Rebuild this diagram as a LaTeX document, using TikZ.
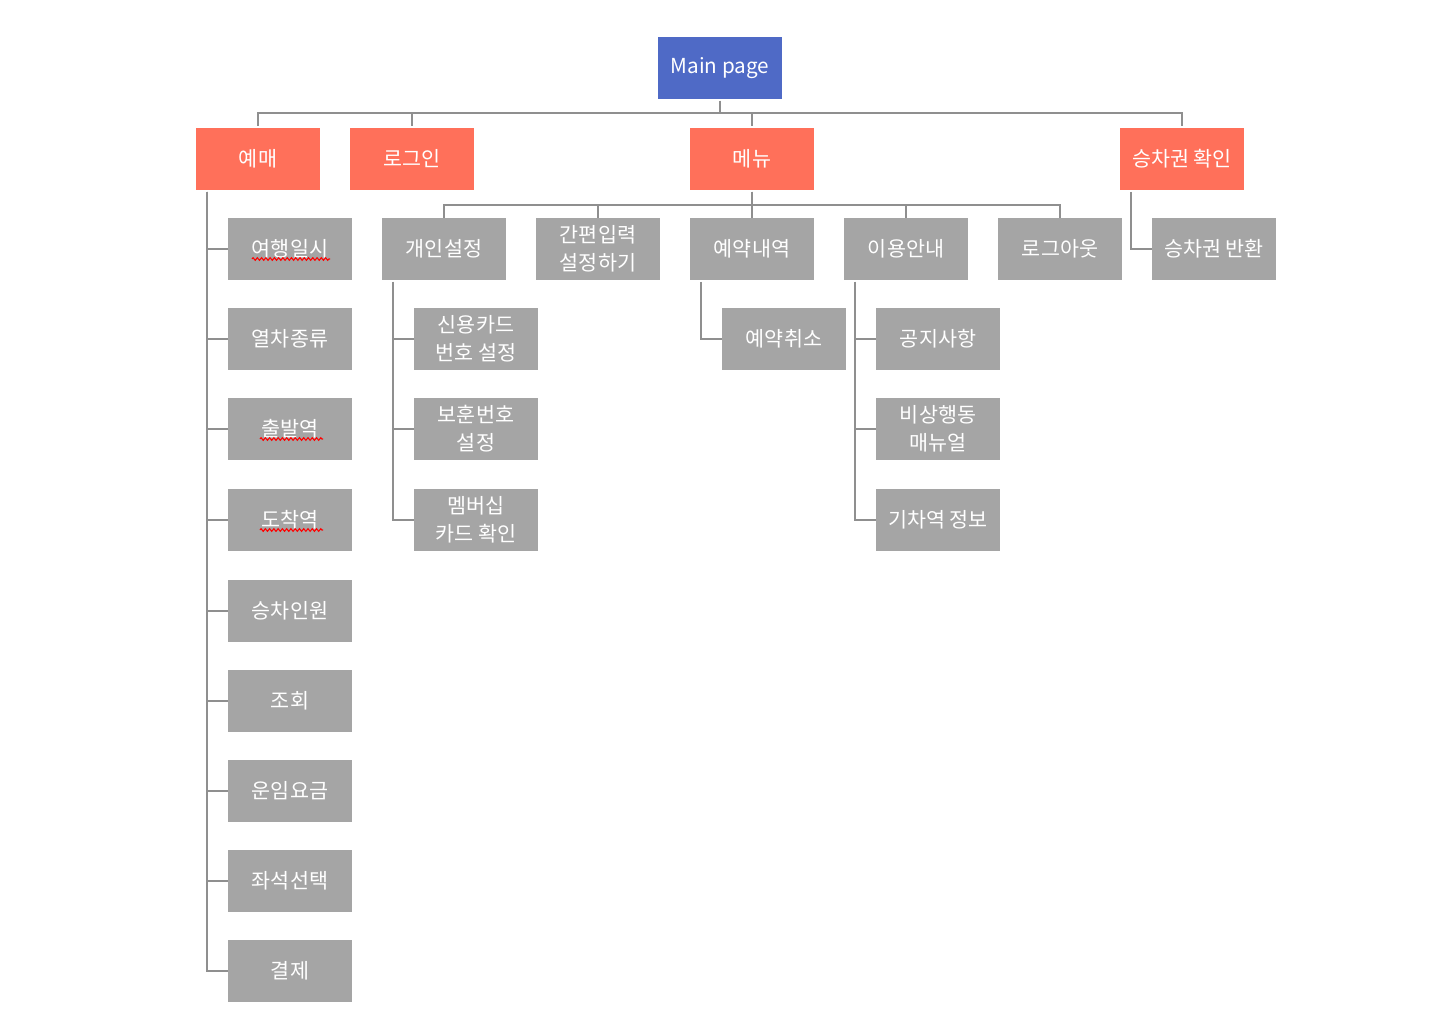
\documentclass[tikz,border=0pt]{standalone}
\usepackage{fontspec}
\newfontfamily\kr{Noto Sans CJK KR}
\usetikzlibrary{calc,decorations.pathmorphing}
\definecolor{mainblue}{HTML}{4F6AC6}
\definecolor{topred}{HTML}{FF705A}
\definecolor{boxgray}{HTML}{A5A5A5}
\definecolor{linegray}{HTML}{8F8F8F}
\tikzset{
  box/.style={minimum width=93pt, minimum height=46.5pt, inner sep=0pt, text=white,
    font=\kr\fontsize{15.5}{21}\selectfont, align=center},
  bluebox/.style={box, fill=mainblue},
  redbox/.style={box, fill=topred},
  graybox/.style={box, fill=boxgray},
  conn/.style={draw=linegray, line width=1.3pt, shorten <=1.2pt},
  spell/.style={draw=red, line width=0.8pt, decorate, decoration={zigzag, segment length=3.2pt, amplitude=1pt}}
}
\begin{document}
\begin{tikzpicture}[x=0.75pt,y=-0.75pt]
\useasboundingbox (0,0) rectangle (1430,1028);
% top
\node[bluebox] (main) at (720,68) {Main page};
\node[redbox] (yemae) at (258,159) {예매};
\node[redbox] (login) at (412,159) {로그인};
\node[redbox] (menu) at (752,159) {메뉴};
\node[redbox] (ticket) at (1182,159) {승차권 확인};
% menu children
\node[graybox] (gaein) at (444,249) {개인설정};
\node[graybox] (ganpyeon) at (598,249) {간편입력\\설정하기};
\node[graybox] (yeyak) at (752,249) {예약내역};
\node[graybox] (iyong) at (906,249) {이용안내};
\node[graybox] (logout) at (1060,249) {로그아웃};
\node[graybox] (banhwan) at (1214,249) {승차권 반환};
% yemae children
\node[graybox] (y1) at (290,249) {여행일시};
\node[graybox] (y2) at (290,339) {열차종류};
\node[graybox] (y3) at (290,429) {출발역};
\node[graybox] (y4) at (290,520) {도착역};
\node[graybox] (y5) at (290,611) {승차인원};
\node[graybox] (y6) at (290,701) {조회};
\node[graybox] (y7) at (290,791) {운임요금};
\node[graybox] (y8) at (290,881) {좌석선택};
\node[graybox] (y9) at (290,971) {결제};
% gaein children
\node[graybox] (g1) at (476,339) {신용카드\\번호 설정};
\node[graybox] (g2) at (476,429) {보훈번호\\설정};
\node[graybox] (g3) at (476,520) {멤버십\\카드 확인};
% yeyak child
\node[graybox] (r1) at (784,339) {예약취소};
% iyong children
\node[graybox] (i1) at (938,339) {공지사항};
\node[graybox] (i2) at (938,429) {비상행동\\매뉴얼};
\node[graybox] (i3) at (938,520) {기차역 정보};
% connectors top bus
\foreach \c in {yemae,login,menu,ticket}
  \draw[conn, shorten >=1.2pt] (main.south) -- ++(0,14) -| (\c.north);
% menu bus
\foreach \c in {gaein,ganpyeon,yeyak,iyong,logout}
  \draw[conn] (menu.south) -- ++(0,15) -| (\c.north);
% left trees
\foreach \c in {y1,y2,y3,y4,y5,y6,y7,y8,y9}
  \draw[conn] ($(yemae.south west)+(11,0)$) |- (\c.west);
\foreach \c in {g1,g2,g3}
  \draw[conn] ($(gaein.south west)+(11,0)$) |- (\c.west);
\draw[conn] ($(yeyak.south west)+(11,0)$) |- (r1.west);
\foreach \c in {i1,i2,i3}
  \draw[conn] ($(iyong.south west)+(11,0)$) |- (\c.west);
\draw[conn] ($(ticket.south west)+(11,0)$) |- (banhwan.west);
% spell-check marks
\draw[spell] ($(y1.center)+(-38,10)$) -- ($(y1.center)+(40,10)$);
\draw[spell] ($(y3.center)+(-30,10)$) -- ($(y3.center)+(33,10)$);
\draw[spell] ($(y4.center)+(-30,10)$) -- ($(y4.center)+(33,10)$);
\end{tikzpicture}
\end{document}
